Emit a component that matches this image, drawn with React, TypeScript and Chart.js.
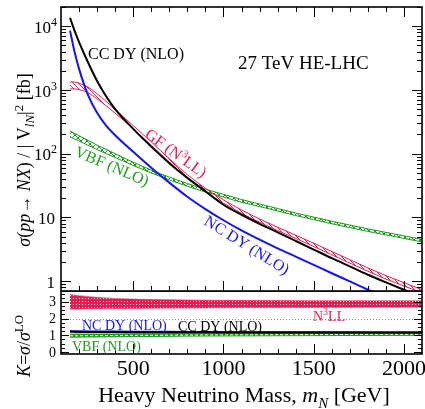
import React, { useEffect, useRef } from "react";
import { Chart, registerables } from "chart.js";
Chart.register(...registerables);

// ---------- data ----------
const MASS = [150, 175, 200, 250, 300, 350, 400, 500, 600, 700, 800, 900, 1000, 1100, 1200, 1300, 1400, 1500, 1600, 1700, 1800, 1900, 2000, 2100];
const CC_DY = [13490, 8510, 5620, 2690, 1380, 794, 501, 245, 129, 70.8, 41.7, 25.7, 15.8, 11.0, 7.94, 5.82, 4.27, 3.13, 2.29, 1.7, 1.26, 0.955, 0.733, 0.569];
const NC_DY = [8510, 3980, 2140, 832, 437, 275, 195, 107, 60.3, 35.1, 21.1, 13.5, 9.02, 6.24, 4.47, 3.27, 2.43, 1.8, 1.33, 0.989, 0.733, 0.543, 0.407, 0.309];
const GF_LOW = [1035, 1035, 1012, 902, 724, 562, 432, 245, 136, 74.0, 41.6, 25.4, 16.7, 11.6, 8.39, 6.22, 4.67, 3.5, 2.59, 1.92, 1.43, 1.08, 0.839, 0.652];
const GF_HIGH = [1334, 1334, 1274, 1109, 871, 661, 495, 276, 153, 83.4, 46.9, 28.6, 18.9, 13.1, 9.46, 7.01, 5.26, 3.94, 2.92, 2.17, 1.61, 1.22, 0.946, 0.735];
const VBF_LOW = [184, 170, 158, 135, 116, 100, 87.1, 65.3, 49.8, 38.7, 30.8, 25.0, 20.8, 17.3, 14.8, 12.6, 10.7, 9.23, 7.94, 6.92, 6.03, 5.31, 4.68, 4.12];
const VBF_HIGH = [226, 209, 191, 162, 136, 117, 100, 73.3, 55.3, 42.9, 34.0, 27.7, 23.0, 19.1, 16.2, 13.8, 11.7, 10.1, 8.71, 7.59, 6.61, 5.82, 5.13, 4.52];

const K_MASS = [150, 200, 300, 400, 600, 800, 1000, 1500, 2100];
const K_GF_LOW = [2.57, 2.58, 2.59, 2.6, 2.62, 2.63, 2.65, 2.67, 2.68];
const K_GF_HIGH = [3.44, 3.37, 3.27, 3.2, 3.14, 3.11, 3.09, 3.07, 3.06];
const K_NC = [1.25, 1.24, 1.23, 1.22, 1.21, 1.2, 1.19, 1.18, 1.17];
const K_CC = [1.21, 1.2, 1.2, 1.19, 1.18, 1.18, 1.17, 1.17, 1.16];
const K_VBF_LOW = [0.88, 0.89, 0.9, 0.91, 0.93, 0.95, 0.96, 0.98, 1.0];
const K_VBF_MID = [0.97, 0.97, 0.98, 0.99, 1.0, 1.01, 1.02, 1.04, 1.06];
const K_VBF_HIGH = [1.06, 1.07, 1.07, 1.08, 1.09, 1.1, 1.1, 1.11, 1.13];

const X_TICKS = [500, 1000, 1500, 2000];
const Y_TICKS = [1, 10, 100, 1000, 10000];
const K_TICKS = [0, 1, 2, 3];

// ---------- styles ----------
const RED = "#ea1a50";
const GREEN = "#1c9c1c";
const BLUE = "#1414f0";
const BLACK = "#000000";
const FONT = '"Liberation Serif", "DejaVu Serif", serif';

type Part = { t: string; it?: boolean; sub?: boolean; sup?: boolean };

function drawRich(
  ctx: CanvasRenderingContext2D,
  parts: Part[],
  x: number,
  y: number,
  size: number,
  color: string,
  align: "left" | "center" | "right",
  rot = 0
) {
  ctx.save();
  ctx.translate(x, y);
  if (rot) ctx.rotate(rot);
  ctx.fillStyle = color;
  ctx.textAlign = "left";
  ctx.textBaseline = "alphabetic";
  const small = Math.round(size * 0.7);
  const fontOf = (p: Part) => `${p.it ? "italic " : ""}${p.sub || p.sup ? small : size}px ${FONT}`;
  let w = 0;
  for (const p of parts) {
    ctx.font = fontOf(p);
    w += ctx.measureText(p.t).width;
  }
  let cx = align === "left" ? 0 : align === "center" ? -w / 2 : -w;
  const base = size * 0.33;
  for (const p of parts) {
    ctx.font = fontOf(p);
    const dy = p.sub ? size * 0.25 : p.sup ? -size * 0.4 : 0;
    ctx.fillText(p.t, cx, base + dy);
    cx += ctx.measureText(p.t).width;
  }
  ctx.restore();
}

function makeHatch(color: string, cross: boolean, size: number) {
  const c = document.createElement("canvas");
  c.width = size;
  c.height = size;
  const g = c.getContext("2d")!;
  g.strokeStyle = color;
  g.lineWidth = 1;
  g.beginPath();
  g.moveTo(0, 0);
  g.lineTo(size, size);
  g.moveTo(-2, size - 2);
  g.lineTo(2, size + 2);
  g.moveTo(size - 2, -2);
  g.lineTo(size + 2, 2);
  if (cross) {
    g.moveTo(0, size);
    g.lineTo(size, 0);
    g.moveTo(-2, 2);
    g.lineTo(2, -2);
    g.moveTo(size - 2, size + 2);
    g.lineTo(size + 2, size - 2);
  }
  g.stroke();
  return g.createPattern(c, "repeat")!;
}

function makeChecker(color: string) {
  const c = document.createElement("canvas");
  c.width = 3;
  c.height = 3;
  const g = c.getContext("2d")!;
  g.fillStyle = color;
  g.fillRect(0, 0, 3, 3);
  g.fillStyle = "#ffffff";
  g.fillRect(1, 1, 1, 1);
  return g.createPattern(c, "repeat")!;
}

const xy = (xs: number[], ys: number[]) => xs.map((x, i) => ({ x, y: ys[i] }));

const topDecor = {
  id: "topDecor",
  afterDraw(chart: any) {
    const { ctx, chartArea: a } = chart;
    const x = chart.scales.x;
    const y = chart.scales.y;
    ctx.save();
    ctx.strokeStyle = BLACK;
    ctx.lineWidth = 1;
    ctx.beginPath();
    for (let m = 200; m <= 2000; m += 100) {
      const px = Math.round(x.getPixelForValue(m)) + 0.5;
      const len = m % 500 === 0 ? 10 : 5;
      ctx.moveTo(px, a.top);
      ctx.lineTo(px, a.top + len);
      ctx.moveTo(px, a.bottom);
      ctx.lineTo(px, a.bottom - len);
    }
    for (let d = -1; d <= 4; d++) {
      for (let k = 1; k <= 9; k++) {
        const v = k * Math.pow(10, d);
        if (v < y.min || v > y.max) continue;
        const py = Math.round(y.getPixelForValue(v)) + 0.5;
        const len = k === 1 ? 10 : 5;
        ctx.moveTo(a.left, py);
        ctx.lineTo(a.left + len, py);
        ctx.moveTo(a.right, py);
        ctx.lineTo(a.right - len, py);
      }
    }
    ctx.stroke();
    ctx.lineWidth = 1.6;
    ctx.strokeRect(a.left, a.top, a.right - a.left, a.bottom - a.top);

    // y tick labels
    for (const v of Y_TICKS) {
      const py = y.getPixelForValue(v) + 1;
      const e = Math.round(Math.log10(v));
      if (e === 0) drawRich(ctx, [{ t: "1" }], 55, py, 17, BLACK, "right");
      else if (e === 1) drawRich(ctx, [{ t: "10" }], 55, py, 17, BLACK, "right");
      else drawRich(ctx, [{ t: "10" }, { t: String(e), sup: true }], 57, py, 17, BLACK, "right");
    }
    // y title
    drawRich(
      ctx,
      [
        { t: "σ", it: true },
        { t: "(" },
        { t: "pp", it: true },
        { t: "→ " },
        { t: "NX", it: true },
        { t: ") / | V" },
        { t: "lN", it: true, sub: true },
        { t: "|" },
        { t: "2", sup: true },
        { t: " [fb]" },
      ],
      24,
      160,
      18,
      BLACK,
      "center",
      -Math.PI / 2
    );
    // in-plot labels
    drawRich(ctx, [{ t: "CC DY (NLO)" }], 88, 54, 16, BLACK, "left");
    drawRich(ctx, [{ t: "27 TeV HE-LHC" }], 238, 63, 19, BLACK, "left");
    drawRich(ctx, [{ t: "GF (N" }, { t: "3", sup: true }, { t: "LL)" }], 176, 153, 16, RED, "center", (36 * Math.PI) / 180);
    drawRich(ctx, [{ t: "VBF (NLO)" }], 112, 166, 16, GREEN, "center", (23 * Math.PI) / 180);
    drawRich(ctx, [{ t: "NC DY (NLO)" }], 247, 245, 16, BLUE, "center", (32 * Math.PI) / 180);
    ctx.restore();
  },
};

const botDecor = {
  id: "botDecor",
  beforeDatasetsDraw(chart: any) {
    const { ctx, chartArea: a } = chart;
    const y = chart.scales.y;
    ctx.save();
    ctx.strokeStyle = "#888888";
    ctx.lineWidth = 1;
    ctx.setLineDash([1, 2]);
    ctx.beginPath();
    for (const v of [1, 2, 3]) {
      const py = Math.round(y.getPixelForValue(v)) + 0.5;
      ctx.moveTo(a.left, py);
      ctx.lineTo(a.right, py);
    }
    ctx.stroke();
    ctx.restore();
  },
  afterDraw(chart: any) {
    const { ctx, chartArea: a } = chart;
    const x = chart.scales.x;
    const y = chart.scales.y;
    ctx.save();
    ctx.strokeStyle = BLACK;
    ctx.lineWidth = 1;
    ctx.beginPath();
    for (let m = 200; m <= 2000; m += 100) {
      const px = Math.round(x.getPixelForValue(m)) + 0.5;
      const len = m % 500 === 0 ? 10 : 5;
      ctx.moveTo(px, a.bottom);
      ctx.lineTo(px, a.bottom - len);
    }
    for (let k = 0; k <= 3.5; k += 0.25) {
      const py = Math.round(y.getPixelForValue(k)) + 0.5;
      const len = Math.abs(k - Math.round(k)) < 1e-6 ? 8 : 4;
      ctx.moveTo(a.left, py);
      ctx.lineTo(a.left + len, py);
      ctx.moveTo(a.right, py);
      ctx.lineTo(a.right - len, py);
    }
    ctx.stroke();
    ctx.lineWidth = 1.6;
    ctx.strokeRect(a.left, a.top, a.right - a.left, a.bottom - a.top);

    for (const v of K_TICKS) {
      drawRich(ctx, [{ t: String(v) }], 56, y.getPixelForValue(v), 14, BLACK, "right");
    }
    for (const m of X_TICKS) {
      drawRich(ctx, [{ t: String(m) }], x.getPixelForValue(m), a.bottom + 14, 22, BLACK, "center");
    }
    drawRich(
      ctx,
      [{ t: "Heavy Neutrino Mass, " }, { t: "m", it: true }, { t: "N", it: true, sub: true }, { t: " [GeV]" }],
      244,
      a.bottom + 41,
      22,
      BLACK,
      "center"
    );
    drawRich(
      ctx,
      [{ t: "K", it: true }, { t: "=" }, { t: "σ", it: true }, { t: "/" }, { t: "σ", it: true }, { t: "LO", sup: true }],
      24,
      a.top + 55,
      18,
      BLACK,
      "center",
      -Math.PI / 2
    );
    drawRich(ctx, [{ t: "NC DY (NLO)" }], 82, a.top + 34, 14, BLUE, "left");
    drawRich(ctx, [{ t: "CC DY (NLO)" }], 178, a.top + 35, 14, BLACK, "left");
    drawRich(ctx, [{ t: "VBF (NLO)" }], 72, a.top + 55, 14, GREEN, "left");
    drawRich(ctx, [{ t: "N" }, { t: "3", sup: true }, { t: "LL" }], 313, a.top + 25, 14, RED, "left");
    ctx.restore();
  },
};

export default function App() {
  const topRef = useRef<HTMLCanvasElement>(null);
  const botRef = useRef<HTMLCanvasElement>(null);

  useEffect(() => {
    const base: any = { pointRadius: 0, borderWidth: 1, cubicInterpolationMode: "monotone", fill: false };
    const redHatch = makeHatch(RED, false, 5);
    const greenHatch = makeHatch(GREEN, true, 6);
    const redChecker = makeChecker(RED);

    const top = new Chart(topRef.current!, {
      type: "line",
      data: {
        datasets: [
          { ...base, label: "CC DY (NLO)", data: xy(MASS, CC_DY), borderColor: BLACK, borderWidth: 2 },
          { ...base, label: "NC DY (NLO)", data: xy(MASS, NC_DY), borderColor: BLUE, borderWidth: 2 },
          { ...base, label: "GF low", data: xy(MASS, GF_LOW), borderColor: RED },
          { ...base, label: "GF (N3LL)", data: xy(MASS, GF_HIGH), borderColor: RED, fill: "-1", backgroundColor: redHatch },
          { ...base, label: "VBF low", data: xy(MASS, VBF_LOW), borderColor: GREEN },
          { ...base, label: "VBF (NLO)", data: xy(MASS, VBF_HIGH), borderColor: GREEN, fill: "-1", backgroundColor: greenHatch },
        ],
      },
      options: {
        responsive: false,
        animation: false,
        events: [],
        layout: { padding: { left: 61, right: 3, top: 7, bottom: 2 } },
        plugins: { legend: { display: false }, tooltip: { enabled: false } },
        scales: {
          x: { type: "linear", min: 100, max: 2100, display: false },
          y: { type: "logarithmic", min: 0.7, max: 20000, display: false },
        },
      } as any,
      plugins: [topDecor],
    });

    const bot = new Chart(botRef.current!, {
      type: "line",
      data: {
        datasets: [
          { ...base, label: "CC DY K", data: xy(K_MASS, K_CC), borderColor: BLACK, borderWidth: 2 },
          { ...base, label: "NC DY K", data: xy(K_MASS, K_NC), borderColor: "#1010c0", borderWidth: 2 },
          { ...base, label: "VBF K mid", data: xy(K_MASS, K_VBF_MID), borderColor: "#ffffff", borderDash: [3, 2] },
          { ...base, label: "VBF K low", data: xy(K_MASS, K_VBF_LOW), borderColor: GREEN },
          { ...base, label: "VBF K", data: xy(K_MASS, K_VBF_HIGH), borderColor: GREEN, fill: "-1", backgroundColor: GREEN },
          { ...base, label: "GF K low", data: xy(K_MASS, K_GF_LOW), borderColor: "rgba(234,26,80,0.5)" },
          { ...base, label: "GF K", data: xy(K_MASS, K_GF_HIGH), borderColor: "rgba(234,26,80,0.5)", fill: "-1", backgroundColor: redChecker },
        ],
      },
      options: {
        responsive: false,
        animation: false,
        events: [],
        layout: { padding: { left: 61, right: 3, top: 0, bottom: 55 } },
        plugins: { legend: { display: false }, tooltip: { enabled: false } },
        scales: {
          x: { type: "linear", min: 100, max: 2100, display: false },
          y: { type: "linear", min: -0.12, max: 3.65, display: false },
        },
      } as any,
      plugins: [botDecor],
    });

    return () => {
      top.destroy();
      bot.destroy();
    };
  }, []);

  return (
    <div style={{ position: "absolute", left: 0, top: 0, width: 425, height: 409, background: "#ffffff" }}>
      <canvas ref={topRef} width={425} height={293} style={{ position: "absolute", left: 0, top: 0 }} />
      <canvas ref={botRef} width={425} height={118} style={{ position: "absolute", left: 0, top: 291 }} />
    </div>
  );
}
